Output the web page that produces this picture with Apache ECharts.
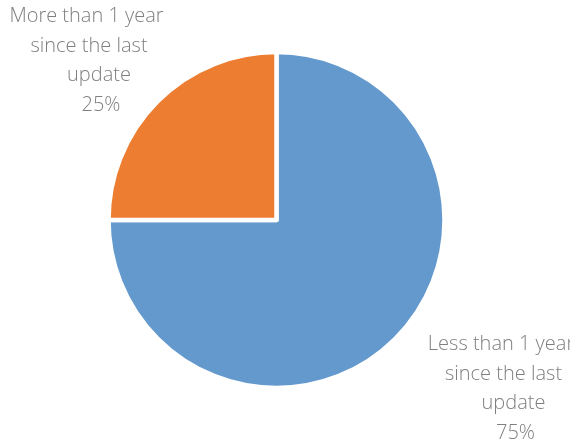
<!DOCTYPE html>
<html>
<head>
<meta charset="utf-8">
<script src="https://cdn.jsdelivr.net/npm/echarts@6/dist/echarts.min.js"></script>
<style>
  html, body { margin: 0; padding: 0; background: #ffffff; }
  #chart { width: 570px; height: 445px; }
</style>
</head>
<body>
<div id="chart"></div>
<script>
// Share of items by time since their last update
const categories = ['Less than 1 year since the last update', 'More than 1 year since the last update'];
const labelLines = [
  ['Less than 1 year', 'since the last', 'update'],
  ['More than 1 year', 'since the last', 'update']
];
const shares = [75, 25];
const colors = ['#6399cd', '#ed7d31'];

// label block anchors (centre of each text block) per slice
const labelAnchors = [
  { x: 501, y: 389 },
  { x: 86.5, y: 61 }
];

const chart = echarts.init(document.getElementById('chart'), null, { renderer: 'canvas' });

const lineStyles = ['l0', 'l1', 'l2', 'l3'];
const lineShift = [0, 5, 25, 29];
const rich = {};
lineStyles.forEach((k, i) => {
  rich[k] = {
    fontFamily: 'Open Sans',
    fontWeight: 300,
    fontSize: 20,
    color: '#7f7f7f',
    lineHeight: 29.5,
    padding: [0, 0, 0, lineShift[i]]
  };
});

chart.setOption({
  animation: false,
  backgroundColor: '#ffffff',
  series: [{
    type: 'pie',
    center: [276.5, 220],
    radius: [0, 168],
    startAngle: 90,
    clockwise: true,
    data: categories.map((name, i) => ({
      name: name,
      value: shares[i],
      itemStyle: { color: colors[i] }
    })),
    itemStyle: { borderColor: '#ffffff', borderWidth: 4.5 },
    label: {
      show: true,
      position: 'outside',
      alignTo: 'none',
      overflow: 'none',
      bleedMargin: 0,
      align: 'center',
      formatter: (p) => {
        const lines = labelLines[p.dataIndex].concat([Math.round(p.percent) + '%']);
        return lines.map((t, i) => '{' + lineStyles[i] + '|' + t + '}').join('\n');
      },
      rich: rich
    },
    labelLine: { show: false },
    labelLayout: (params) => {
      const a = labelAnchors[params.dataIndex];
      return { x: a.x, y: a.y, align: 'center', verticalAlign: 'middle' };
    },
    emphasis: { disabled: true }
  }]
});
</script>
</body>
</html>
